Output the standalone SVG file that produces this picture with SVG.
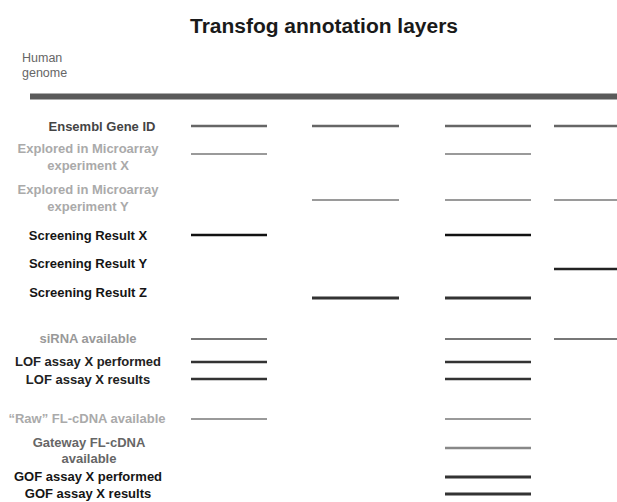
<svg xmlns="http://www.w3.org/2000/svg" width="617" height="502" viewBox="0 0 617 502">
<style>
text{font-family:"Liberation Sans",Arial,sans-serif;}
.t{font-size:13px;font-weight:bold;text-anchor:middle;}
.seg{stroke-linecap:butt;fill:none;}
.gray{fill:#aaa;}
.mid{fill:#555;}
.blk{fill:#151515;}
.lg{stroke:#9a9a9a;stroke-width:2;}
.md{stroke:#666;stroke-width:2.5;}
.dk{stroke:#222;stroke-width:2.5;}
.dk3{stroke:#333;stroke-width:3;}
</style>
<rect width="617" height="502" fill="#fff"/>
<g id="title"><text x="324" y="33" font-size="20" font-weight="bold" text-anchor="middle" fill="#1a1a1a" textLength="268" lengthAdjust="spacingAndGlyphs">Transfog annotation layers</text></g>
<g id="genome">
<text x="22" y="62" font-size="12.5" fill="#666">Human</text>
<text x="22" y="77" font-size="12.5" fill="#666">genome</text>
<line x1="30" y1="96.5" x2="617" y2="96.5" stroke="#5a5a5a" stroke-width="6"/>
</g>
<g id="connectors">
<g id="ensembl-segs" class="seg md"><line x1="191" y1="126" x2="267" y2="126"/><line x1="312" y1="126" x2="399" y2="126"/><line x1="445" y1="126" x2="531" y2="126"/><line x1="554" y1="126" x2="617" y2="126"/></g>
<g id="microX-segs" class="seg lg"><line x1="191" y1="154" x2="267" y2="154"/><line x1="445" y1="154" x2="531" y2="154"/></g>
<g id="microY-segs" class="seg lg"><line x1="312" y1="200" x2="399" y2="200"/><line x1="445" y1="200" x2="531" y2="200"/><line x1="554" y1="200" x2="617" y2="200"/></g>
<g id="scrX-segs" class="seg dk" style="stroke:#111"><line x1="191" y1="235" x2="267" y2="235"/><line x1="445" y1="235" x2="531" y2="235"/></g>
<g id="scrY-segs" class="seg dk"><line x1="554" y1="269" x2="617" y2="269"/></g>
<g id="scrZ-segs" class="seg dk3"><line x1="312" y1="298" x2="399" y2="298"/><line x1="445" y1="298" x2="531" y2="298"/></g>
<g id="sirna-segs" class="seg md" style="stroke:#777;stroke-width:2"><line x1="191" y1="339" x2="267" y2="339"/><line x1="445" y1="339" x2="531" y2="339"/><line x1="554" y1="339" x2="617" y2="339"/></g>
<g id="lofp-segs" class="seg dk3" style="stroke-width:2.5"><line x1="191" y1="362" x2="267" y2="362"/><line x1="445" y1="362" x2="531" y2="362"/></g>
<g id="lofr-segs" class="seg dk3" style="stroke-width:2.5"><line x1="191" y1="379" x2="267" y2="379"/><line x1="445" y1="379" x2="531" y2="379"/></g>
<g id="raw-segs" class="seg lg"><line x1="191" y1="419" x2="267" y2="419"/><line x1="445" y1="419" x2="531" y2="419"/></g>
<g id="gateway-segs" class="seg md" style="stroke:#888"><line x1="445" y1="448" x2="531" y2="448"/></g>
<g id="gofp-segs" class="seg dk3"><line x1="445" y1="477" x2="531" y2="477"/></g>
<g id="gofr-segs" class="seg dk3"><line x1="445" y1="494" x2="531" y2="494"/></g>
</g>
<g id="ensembl"><text class="t" x="102" y="131" fill="#444">Ensembl Gene ID</text></g>
<g id="microX"><text class="t gray" x="88" y="153">Explored in Microarray</text><text class="t gray" x="88" y="170">experiment X</text></g>
<g id="microY"><text class="t gray" x="88" y="194">Explored in Microarray</text><text class="t gray" x="88" y="211">experiment Y</text></g>
<g id="scrX"><text class="t blk" x="88" y="240">Screening Result X</text></g>
<g id="scrY"><text class="t blk" x="88" y="268">Screening Result Y</text></g>
<g id="scrZ"><text class="t blk" x="88" y="297">Screening Result Z</text></g>
<g id="sirna"><text class="t" x="88" y="343" fill="#999">siRNA available</text></g>
<g id="lofp"><text class="t" x="88" y="366" fill="#222">LOF assay X performed</text></g>
<g id="lofr"><text class="t" x="88" y="384" fill="#222">LOF assay X results</text></g>
<g id="raw"><text class="t gray" x="87" y="423">“Raw” FL-cDNA available</text></g>
<g id="gateway"><text class="t" x="89" y="447" fill="#666">Gateway FL-cDNA</text><text class="t" x="89" y="463" fill="#666">available</text></g>
<g id="gofp"><text class="t blk" x="88" y="481">GOF assay X performed</text></g>
<g id="gofr"><text class="t blk" x="88" y="498">GOF assay X results</text></g>
</svg>
